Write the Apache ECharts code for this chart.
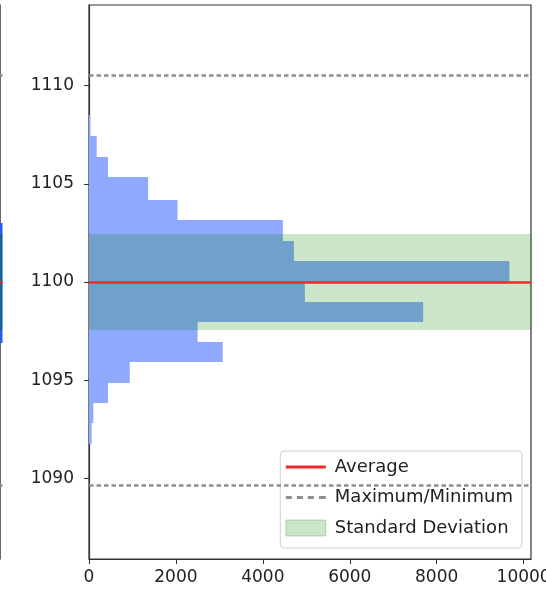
<!DOCTYPE html>
<html>
<head>
<meta charset="utf-8">
<script src="https://cdn.jsdelivr.net/npm/echarts@6/dist/echarts.min.js"></script>
<style>html,body{margin:0;padding:0;background:#fff;}#c{width:546px;height:597px;}</style>
</head>
<body>
<div id="c"></div>
<script>
// Histogram bins (value range low/high) and counts
const binLow  = [1091.76, 1092.81, 1093.83, 1094.84, 1095.91, 1096.93, 1097.95, 1099.00, 1100.02, 1101.08, 1102.10, 1103.17, 1104.19, 1105.33, 1106.38, 1107.43];
const binHigh = [1092.81, 1093.83, 1094.84, 1095.91, 1096.93, 1097.95, 1099.00, 1100.02, 1101.08, 1102.10, 1103.17, 1104.19, 1105.33, 1106.38, 1107.43, 1108.52];
const binCounts = [60, 100, 438, 938, 3076, 2499, 7689, 4967, 9673, 4714, 4460, 2037, 1361, 438, 177, 30];

// Summary statistics
const average = 1100.0;
const maximum = 1110.53;
const minimum = 1089.67;
const stdLow = 1097.56;
const stdHigh = 1102.43;

// Axis ticks
const yTicks = [1090, 1095, 1100, 1105, 1110];
const xTicks = [0, 2000, 4000, 6000, 8000, 10000];
const yRange = [1085.9, 1114.1];
const xRange = [0, 10170];

// Left (cropped) neighbour panel: visible band of values
const leftPanelBand = [1096.9, 1103.0];

const FONT = 'DejaVu Sans';
const histData = binLow.map((lo, i) => [lo, binHigh[i], binCounts[i]]);

const chart = echarts.init(document.getElementById('c'), null, {renderer: 'canvas'});

function rectItem(params, api) {
  const p1 = api.coord([0, api.value(1)]);
  const p2 = api.coord([api.value(2), api.value(0)]);
  const cs = params.coordSys;
  const y1 = Math.round(p1[1]), y2 = Math.round(p2[1]);
  const shape = echarts.graphic.clipRectByRect(
    {x: p1[0], y: y1, width: p2[0] - p1[0], height: y2 - y1},
    {x: cs.x, y: cs.y, width: cs.width, height: cs.height});
  return shape && {type: 'rect', shape: shape, style: {fill: api.visual('color')}};
}

const fmt = v => String(v);

const option = {
  animation: false,
  backgroundColor: '#fff',
  grid: [
    {left: 89, right: 15, top: 5, bottom: 38, show: true, borderColor: '#333', borderWidth: 1.2,
     backgroundColor: 'transparent', outerBoundsMode: 'none', containLabel: false},
    {left: 0, width: 2.5, top: 5, bottom: 38, show: false, outerBoundsMode: 'none', containLabel: false}
  ],
  xAxis: [
    {
      type: 'value', gridIndex: 0, min: xRange[0], max: xRange[1],
      axisLine: {show: true, lineStyle: {color: '#333', width: 1.2}},
      axisTick: {show: true, length: 5, lineStyle: {color: '#333'}, customValues: xTicks},
      axisLabel: {customValues: xTicks, formatter: fmt, fontFamily: FONT, fontSize: 17, color: '#222', margin: 10},
      splitLine: {show: false}
    },
    {type: 'value', gridIndex: 1, min: 0, max: 1000, show: false}
  ],
  yAxis: [
    {
      type: 'value', gridIndex: 0, min: yRange[0], max: yRange[1],
      axisLine: {show: true, lineStyle: {color: '#333', width: 1.2}},
      axisTick: {show: true, length: 5, lineStyle: {color: '#333'}, customValues: yTicks},
      axisLabel: {customValues: yTicks, formatter: fmt, fontFamily: FONT, fontSize: 17, color: '#222', margin: 15},
      splitLine: {show: false}
    },
    {type: 'value', gridIndex: 1, min: yRange[0], max: yRange[1], position: 'right',
     axisLine: {show: true, lineStyle: {color: '#333', width: 1.5}},
     axisTick: {show: false}, axisLabel: {show: false}, splitLine: {show: false}}
  ],
  legend: {
    orient: 'vertical', right: 24, top: 451,
    padding: [7, 9, 11, 5],
    itemWidth: 40, itemHeight: 16, itemGap: 12.5,
    backgroundColor: 'rgba(255,255,255,0.8)',
    borderColor: '#d0d0d0', borderWidth: 1, borderRadius: 4,
    textStyle: {fontFamily: FONT, fontSize: 18, color: '#222', padding: [0, 0, 0, 4]},
    data: [
      {name: 'Average', icon: 'path://M0,0h40v3h-40z', itemStyle: {color: '#ee2a2a', borderWidth: 0}},
      {name: 'Maximum/Minimum', icon: 'path://M0,0h6v3h-6z M11,0h6v3h-6z M22,0h6v3h-6z M33,0h7v3h-7z', itemStyle: {color: '#8f8f8f', borderWidth: 0}},
      {name: 'Standard Deviation', icon: 'rect', itemStyle: {color: 'rgba(0,128,0,0.2)', borderColor: 'rgba(0,128,0,0.25)', borderWidth: 1}}
    ]
  },
  series: [
    {
      name: 'Histogram', type: 'custom', xAxisIndex: 0, yAxisIndex: 0,
      renderItem: rectItem, itemStyle: {color: '#8ea9fd'},
      encode: {x: 2, y: [0, 1]}, data: histData, z: 1
    },
    {
      name: 'Standard Deviation', type: 'custom', xAxisIndex: 0, yAxisIndex: 0, z: 3,
      renderItem: rectItem, itemStyle: {color: 'rgba(0,128,0,0.2)'},
      encode: {x: 2, y: [0, 1]}, data: [[stdLow, stdHigh, xRange[1]]]
    },
    {
      name: 'Maximum/Minimum', type: 'line', xAxisIndex: 0, yAxisIndex: 0, data: [], z: 4,
      itemStyle: {color: '#8f8f8f'},
      markLine: {silent: true, symbol: 'none', label: {show: false},
        lineStyle: {color: '#8f8f8f', width: 2.5, type: [4.5, 3]},
        data: [{yAxis: maximum}, {yAxis: minimum}]}
    },
    {
      name: 'Average', type: 'line', xAxisIndex: 0, yAxisIndex: 0, data: [], z: 5,
      itemStyle: {color: '#ee2a2a'},
      markLine: {silent: true, symbol: 'none', label: {show: false},
        lineStyle: {color: '#ee2a2a', width: 2.5, type: 'solid'},
        data: [{yAxis: average}]}
    },
    // Left cropped neighbour panel
    {
      name: 'leftBand', type: 'custom', xAxisIndex: 1, yAxisIndex: 1,
      renderItem: rectItem, itemStyle: {color: '#2a5be8'},
      encode: {x: 2, y: [0, 1]}, data: [[leftPanelBand[0], leftPanelBand[1], 1000]], z: 1
    },
    {
      name: 'leftStd', type: 'custom', xAxisIndex: 1, yAxisIndex: 1,
      renderItem: rectItem, itemStyle: {color: 'rgba(0,110,60,0.45)'},
      encode: {x: 2, y: [0, 1]}, data: [[stdLow, stdHigh, 1000]], z: 2,
      markLine: {silent: true, symbol: 'none', label: {show: false},
        data: [
          {yAxis: maximum, lineStyle: {color: '#8f8f8f', width: 2.5, type: 'solid'}},
          {yAxis: minimum, lineStyle: {color: '#8f8f8f', width: 2.5, type: 'solid'}},
          {yAxis: average, lineStyle: {color: '#ee2a2a', width: 2.5, type: 'solid'}}
        ]}
    }
  ]
};
chart.setOption(option);
</script>
</body>
</html>
